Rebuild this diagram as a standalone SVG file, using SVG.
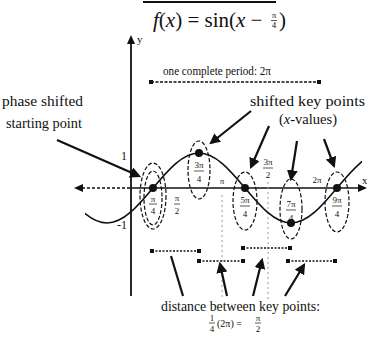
<svg xmlns="http://www.w3.org/2000/svg" width="367" height="347" viewBox="0 0 367 347">
<style>
text{font-family:"Liberation Serif","Times New Roman",serif;fill:#111}
.lbl{font-size:14px}
.sm{font-size:11px}
.fr{font-size:9px;text-anchor:middle}
.ell{fill:none;stroke:#111;stroke-width:1.2;stroke-dasharray:4 2}
.ptr{stroke:#111;stroke-width:2.2;fill:none}
.seg{stroke:#111;stroke-width:1.6;stroke-dasharray:2 1.5}
.vd{stroke:#999;stroke-width:1;stroke-dasharray:2 3}
.bar{stroke:#111;stroke-width:0.7}
</style>
<defs>
<marker id="ah" viewBox="0 0 10 10" refX="8" refY="5" markerWidth="5" markerHeight="5" orient="auto"><path d="M0,0 L10,5 L0,10 z" fill="#111"/></marker>
<marker id="dot" viewBox="0 0 6 6" refX="3" refY="3" markerWidth="3" markerHeight="3"><rect width="6" height="6" fill="#111"/></marker>
<clipPath id="cc"><rect x="85" y="130" width="277" height="110"/></clipPath>
</defs>
<line x1="143" y1="2" x2="276" y2="2" stroke="#111" stroke-width="2"/>
<g id="title"><text x="153" y="27" font-size="21"><tspan font-style="italic">f</tspan>(<tspan font-style="italic">x</tspan>) = sin(<tspan font-style="italic">x</tspan> −</text>
<text x="274" y="18" class="fr" font-size="8">π</text><line x1="271" y1="20.5" x2="277" y2="20.5" class="bar"/><text x="274" y="28" class="fr" font-size="8">4</text>
<text x="279" y="27" font-size="21">)</text></g>
<g id="axes">
<line x1="131" y1="42" x2="131" y2="296" stroke="#111" stroke-width="1.8"/>
<path d="M127,44 L131,35 L135,44 z" fill="#111"/>
<text x="137" y="43" class="sm">y</text>
<line x1="82" y1="188" x2="131" y2="188" stroke="#111" stroke-width="1.3" stroke-dasharray="3 2"/>
<line x1="131" y1="188" x2="360" y2="188" stroke="#111" stroke-width="1.3"/>
<path d="M83,184 L74,188 L83,192 z" fill="#111"/>
<path d="M358,184 L367,188 L358,192 z" fill="#111"/>
<text x="362" y="184" class="sm">x</text>
<text x="121" y="160" font-size="12">1</text>
<text x="117" y="229" font-size="12">-1</text>
<line x1="222" y1="195" x2="222" y2="300" class="vd"/>
<line x1="268" y1="182" x2="268" y2="300" class="vd"/>
</g>
<g id="period">
<text x="163" y="75" font-size="12" textLength="108" lengthAdjust="spacingAndGlyphs">one complete period: 2π</text>
<line x1="151" y1="82" x2="319" y2="82" stroke="#111" stroke-width="1.6" stroke-dasharray="3 1.5" marker-start="url(#dot)" marker-end="url(#dot)"/>
</g>
<g id="curve"><path clip-path="url(#cc)" d="M61,188 C76,205.9 90.35,223 107,223 C123.650,223 138,205.9 153,188 C168,170.1 182.35,153 199,153 C215.65,153 230,170.1 245,188 C260,205.9 274.35,223 291,223 C307.65,223 322,205.9 337,188 C352,170.1 366.35,153 383,153" fill="none" stroke="#111" stroke-width="1.6"/></g>
<g id="keypoints" fill="#111">
<circle cx="153" cy="188" r="4"/><circle cx="199" cy="153" r="4"/><circle cx="245" cy="188" r="4"/><circle cx="291" cy="223" r="4"/><circle cx="337" cy="188" r="4"/>
</g>
<g id="ellipses">
<ellipse cx="153" cy="196" rx="13" ry="33" class="ell"/>
<ellipse cx="153" cy="198" rx="9" ry="27" class="ell"/>
<ellipse cx="199" cy="170" rx="11" ry="29" class="ell"/>
<ellipse cx="245" cy="201" rx="12" ry="29" class="ell"/>
<ellipse cx="291" cy="209" rx="11" ry="30" class="ell"/>
<ellipse cx="337" cy="202" rx="12" ry="30" class="ell"/>
</g>
<g id="fractions">
<text x="153" y="202" class="fr">π</text><line x1="149" y1="204" x2="157" y2="204" class="bar"/><text x="153" y="214" class="fr">4</text>
<text x="199" y="168" class="fr">3π</text><line x1="194" y1="171" x2="204" y2="171" class="bar"/><text x="199" y="182" class="fr">4</text>
<text x="245" y="203" class="fr">5π</text><line x1="240" y1="206" x2="250" y2="206" class="bar"/><text x="245" y="217" class="fr">4</text>
<text x="291" y="207" class="fr">7π</text><line x1="286" y1="210" x2="296" y2="210" class="bar"/><text x="291" y="221" class="fr">4</text>
<text x="337" y="203" class="fr">9π</text><line x1="332" y1="206" x2="342" y2="206" class="bar"/><text x="337" y="217" class="fr">4</text>
<text x="177" y="201" class="fr">π</text><line x1="174" y1="204" x2="180" y2="204" class="bar"/><text x="177" y="214" class="fr">2</text>
<text x="222" y="184" class="fr">π</text>
<text x="268" y="165" class="fr">3π</text><line x1="263" y1="168" x2="273" y2="168" class="bar"/><text x="268" y="178" class="fr">2</text>
<text x="317" y="183" class="fr">2π</text>
</g>
<g id="phase-label">
<text x="2" y="106" class="lbl" textLength="81" lengthAdjust="spacingAndGlyphs">phase shifted</text>
<text x="6" y="128" class="lbl" textLength="76" lengthAdjust="spacingAndGlyphs">starting point</text>
</g>
<g id="key-label">
<text x="250" y="106" class="lbl" textLength="115" lengthAdjust="spacingAndGlyphs">shifted key points</text>
<text x="279" y="124" class="lbl" textLength="58" lengthAdjust="spacingAndGlyphs">(<tspan font-style="italic">x</tspan>-values)</text>
</g>
<g id="segments">
<line x1="152" y1="251" x2="199" y2="251" class="seg" marker-start="url(#dot)" marker-end="url(#dot)"/>
<line x1="199" y1="261" x2="243" y2="261" class="seg" marker-start="url(#dot)" marker-end="url(#dot)"/>
<line x1="243" y1="248" x2="290" y2="248" class="seg" marker-start="url(#dot)" marker-end="url(#dot)"/>
<line x1="288" y1="261" x2="335" y2="261" class="seg" marker-start="url(#dot)" marker-end="url(#dot)"/>
</g>
<g id="dist-label">
<text x="161" y="311" class="lbl" textLength="159" lengthAdjust="spacingAndGlyphs">distance between key points:</text>
<text x="212" y="321" class="fr">1</text><line x1="209" y1="323" x2="215" y2="323" class="bar"/><text x="212" y="332" class="fr">4</text>
<text x="217" y="327" font-size="10">(2π) = </text>
<text x="258" y="321" class="fr">π</text><line x1="255" y1="323" x2="261" y2="323" class="bar"/><text x="258" y="332" class="fr">2</text>
</g>
<g id="connectors">
<line x1="57" y1="140" x2="139" y2="176" class="ptr" marker-end="url(#ah)"/>
<line x1="251" y1="111" x2="211" y2="143" class="ptr" marker-end="url(#ah)"/>
<line x1="269" y1="126" x2="251" y2="167" class="ptr" marker-end="url(#ah)"/>
<line x1="297" y1="141" x2="291" y2="179" class="ptr" marker-end="url(#ah)"/>
<line x1="324" y1="139" x2="334" y2="166" class="ptr" marker-end="url(#ah)"/>
<line x1="183" y1="296" x2="171" y2="256" class="ptr"/>
<line x1="227" y1="296" x2="220" y2="264" class="ptr" marker-end="url(#ah)"/>
<line x1="253" y1="296" x2="262" y2="260" class="ptr" marker-end="url(#ah)"/>
<line x1="285" y1="296" x2="304" y2="265" class="ptr" marker-end="url(#ah)"/>
</g>
</svg>
